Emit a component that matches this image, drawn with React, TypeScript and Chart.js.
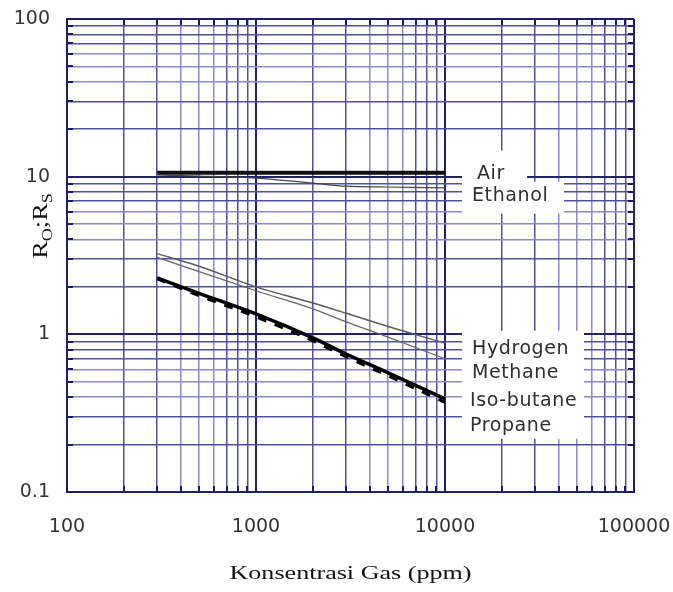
import React, { useEffect, useRef } from "react";
import { Chart, registerables } from "chart.js";

Chart.register(...registerables);

// ---- data ----
const concentrations = [300, 500, 1000, 2000, 3000, 5000, 10000];
const air = [10.6, 10.6, 10.6, 10.6, 10.6, 10.6, 10.6];
const ethanol = [10.25, 10.1, 9.8, 9.1, 8.7, 8.6, 8.5];
const hydrogen = [3.25, 2.7, 2.0, 1.58, 1.36, 1.12, 0.88];
const methane = [3.08, 2.5, 1.89, 1.45, 1.2, 0.96, 0.7];
const isoButane = [2.28, 1.82, 1.35, 0.95, 0.75, 0.57, 0.39];
const propane = [2.25, 1.76, 1.29, 0.91, 0.72, 0.545, 0.37];

const xGridValues = [
  100, 200, 300, 400, 500, 600, 700, 800, 900,
  1000, 2000, 3000, 4000, 5000, 6000, 7000, 8000, 9000,
  10000, 20000, 30000, 40000, 50000, 60000, 70000, 80000, 90000,
  100000,
];
const xDecades = [100, 1000, 10000, 100000];
const xTickLabels = ["100", "1000", "10000", "100000"];

const yGridValues = [
  0.1, 0.2, 0.3, 0.4, 0.5, 0.6, 0.7, 0.8, 0.9,
  1, 2, 3, 4, 5, 6, 7, 8, 9,
  10, 20, 30, 40, 50, 60, 70, 80, 90,
  100,
];
const yDecades = [0.1, 1, 10, 100];
const yTickLabels = ["0.1", "1", "10", "100"];

const gasLabels = ["Air", "Ethanol", "Hydrogen", "Methane", "Iso-butane", "Propane"];
const xTitle = "Konsentrasi Gas (ppm)";

// ---- styling helpers ----
function gridStyle(value: number) {
  const exp = Math.floor(Math.log10(value) + 1e-9);
  const m = Math.round(value / Math.pow(10, exp));
  if (m === 1) return { color: "#22226c", width: 2 };
  if (m === 4 || m === 5 || m === 6) return { color: "#8a88c8", width: 1.5 };
  return { color: "#50509a", width: 1.5 };
}

function pts(ys: number[]) {
  return concentrations.map((c, i) => ({ x: c, y: ys[i] }));
}

function zeroPadding(s: any) {
  s.paddingLeft = 0;
  s.paddingRight = 0;
  s.paddingTop = 0;
  s.paddingBottom = 0;
}

const stubsPlugin = {
  id: "stubs",
  beforeDatasetsDraw(chart: any) {
    const { ctx, chartArea: a, scales } = chart;
    const xs = scales.x, ys = scales.y;
    ctx.save();
    ctx.strokeStyle = "#1a1a5a";
    ctx.lineWidth = 2;
    ctx.beginPath();
    xGridValues.forEach((v) => {
      const px = Math.round(xs.getPixelForValue(v));
      ctx.moveTo(px, a.bottom);
      ctx.lineTo(px, a.bottom - 6);
      ctx.moveTo(px, a.top);
      ctx.lineTo(px, a.top + 6);
    });
    yGridValues.forEach((v) => {
      const py = Math.round(ys.getPixelForValue(v));
      ctx.moveTo(a.left, py);
      ctx.lineTo(a.left + 6, py);
      ctx.moveTo(a.right, py);
      ctx.lineTo(a.right - 6, py);
    });
    ctx.stroke();
    ctx.restore();
  },
};

const labelsPlugin = {
  id: "gasLabels",
  afterDatasetsDraw(chart: any) {
    const { ctx, scales } = chart;
    const xs = scales.x, ys = scales.y;
    const xEnd = xs.getPixelForValue(10000);
    const boxL = xEnd + 17;
    const yAir = ys.getPixelForValue(air[air.length - 1]);
    const yH = ys.getPixelForValue(0.81);

    ctx.save();
    ctx.fillStyle = "#ffffff";
    ctx.fillRect(boxL, yAir - 22, 65, 31);
    ctx.fillRect(boxL, yAir + 9, 102, 32);
    ctx.fillRect(boxL, yH - 18, 122, 108);

    ctx.fillStyle = "#2e2e2e";
    ctx.font = '19px "DejaVu Sans"';
    try { (ctx as any).letterSpacing = "0.6px"; } catch (e) {}
    ctx.textAlign = "left";
    ctx.textBaseline = "middle";
    const rows = [
      { t: gasLabels[0], x: boxL + 15, y: yAir + 1 },
      { t: gasLabels[1], x: boxL + 10, y: yAir + 23 },
      { t: gasLabels[2], x: boxL + 10, y: yH },
      { t: gasLabels[3], x: boxL + 10, y: yH + 24 },
      { t: gasLabels[4], x: boxL + 8, y: yH + 52 },
      { t: gasLabels[5], x: boxL + 8, y: yH + 77 },
    ];
    rows.forEach((r) => ctx.fillText(r.t, r.x, r.y));
    try { (ctx as any).letterSpacing = "0px"; } catch (e) {}
    ctx.restore();
  },
  afterDraw(chart: any) {
    const { ctx, chartArea: a } = chart;
    // x-axis title
    ctx.save();
    ctx.fillStyle = "#111";
    ctx.font = '18px "Liberation Serif"';
    ctx.textAlign = "center";
    ctx.textBaseline = "alphabetic";
    ctx.translate((a.left + a.right) / 2, a.bottom + 87);
    ctx.scale(1.45, 1);
    ctx.fillText(xTitle, 0, 0);
    ctx.restore();

    // y-axis title  R_O;R_S
    ctx.save();
    ctx.fillStyle = "#111";
    ctx.textBaseline = "alphabetic";
    ctx.textAlign = "left";
    ctx.translate(47, 226);
    ctx.rotate(-Math.PI / 2);
    ctx.scale(1.2, 1);
    const big = '22px "Liberation Serif"';
    const small = '15px "Liberation Serif"';
    const parts = [
      { t: "R", f: big, dy: 0 },
      { t: "O", f: small, dy: 5 },
      { t: ";", f: big, dy: 0 },
      { t: "R", f: big, dy: 0 },
      { t: "S", f: small, dy: 5 },
    ];
    let total = 0;
    parts.forEach((p) => { ctx.font = p.f; total += ctx.measureText(p.t).width; });
    let cx = -total / 2;
    parts.forEach((p) => {
      ctx.font = p.f;
      ctx.fillText(p.t, cx, p.dy);
      cx += ctx.measureText(p.t).width;
    });
    ctx.restore();
  },
};

export default function App() {
  const ref = useRef<HTMLCanvasElement | null>(null);

  useEffect(() => {
    if (!ref.current) return;
    const chart = new Chart(ref.current, {
      type: "line",
      data: {
        datasets: [
          { label: gasLabels[0], data: pts(air), borderColor: "#111", borderWidth: 4 },
          { label: gasLabels[1], data: pts(ethanol), borderColor: "#444", borderWidth: 1.2 },
          { label: gasLabels[2], data: pts(hydrogen), borderColor: "#5a5a5a", borderWidth: 1.5 },
          { label: gasLabels[3], data: pts(methane), borderColor: "#666", borderWidth: 1.3 },
          { label: gasLabels[4], data: pts(isoButane), borderColor: "#000", borderWidth: 3.5 },
          { label: gasLabels[5], data: pts(propane), borderColor: "#000", borderWidth: 3, borderDash: [9, 9] },
        ] as any,
      },
      options: {
        animation: false,
        responsive: false,
        devicePixelRatio: 1,
        layout: { padding: { top: 19, right: 39, bottom: 0, left: 0 } },
        elements: {
          point: { radius: 0 },
          line: { cubicInterpolationMode: "monotone", fill: false },
        },
        plugins: {
          legend: { display: false },
          tooltip: { enabled: false },
          title: { display: false },
        },
        scales: {
          x: {
            type: "logarithmic",
            min: 100,
            max: 100000,
            afterBuildTicks: (s: any) => {
              s.ticks = xGridValues.map((v) => ({ value: v }));
            },
            afterFit: (s: any) => {
              s.height = 100;
              zeroPadding(s);
            },
            ticks: {
              autoSkip: false,
              maxRotation: 0,
              padding: 24,
              color: "#333",
              font: { family: "DejaVu Sans", size: 19 },
              callback: (v: any) => {
                const i = xDecades.indexOf(Number(v));
                return i >= 0 ? xTickLabels[i] : "";
              },
            },
            grid: {
              drawTicks: false,
              color: (c: any) => gridStyle(c.tick.value).color,
              lineWidth: (c: any) => gridStyle(c.tick.value).width,
            },
            border: { display: true, color: "#22226c", width: 2 },
          },
          y: {
            type: "logarithmic",
            min: 0.1,
            max: 100,
            afterBuildTicks: (s: any) => {
              s.ticks = yGridValues.map((v) => ({ value: v }));
            },
            afterFit: (s: any) => {
              s.width = 67;
              zeroPadding(s);
            },
            ticks: {
              autoSkip: false,
              padding: 17,
              color: "#333",
              font: { family: "DejaVu Sans", size: 19 },
              callback: (v: any) => {
                const n = Number(v);
                const i = yDecades.findIndex((d) => Math.abs(d - n) < 1e-9);
                return i >= 0 ? yTickLabels[i] : "";
              },
            },
            grid: {
              drawTicks: false,
              color: (c: any) => gridStyle(c.tick.value).color,
              lineWidth: (c: any) => gridStyle(c.tick.value).width,
            },
            border: { display: true, color: "#22226c", width: 2 },
          },
        },
      } as any,
      plugins: [stubsPlugin, labelsPlugin],
    });
    return () => chart.destroy();
  }, []);

  return (
    <div style={{ position: "absolute", left: 0, top: 0, width: 673, height: 592, background: "#fff" }}>
      <canvas ref={ref} width={673} height={592} style={{ display: "block" }} />
    </div>
  );
}
